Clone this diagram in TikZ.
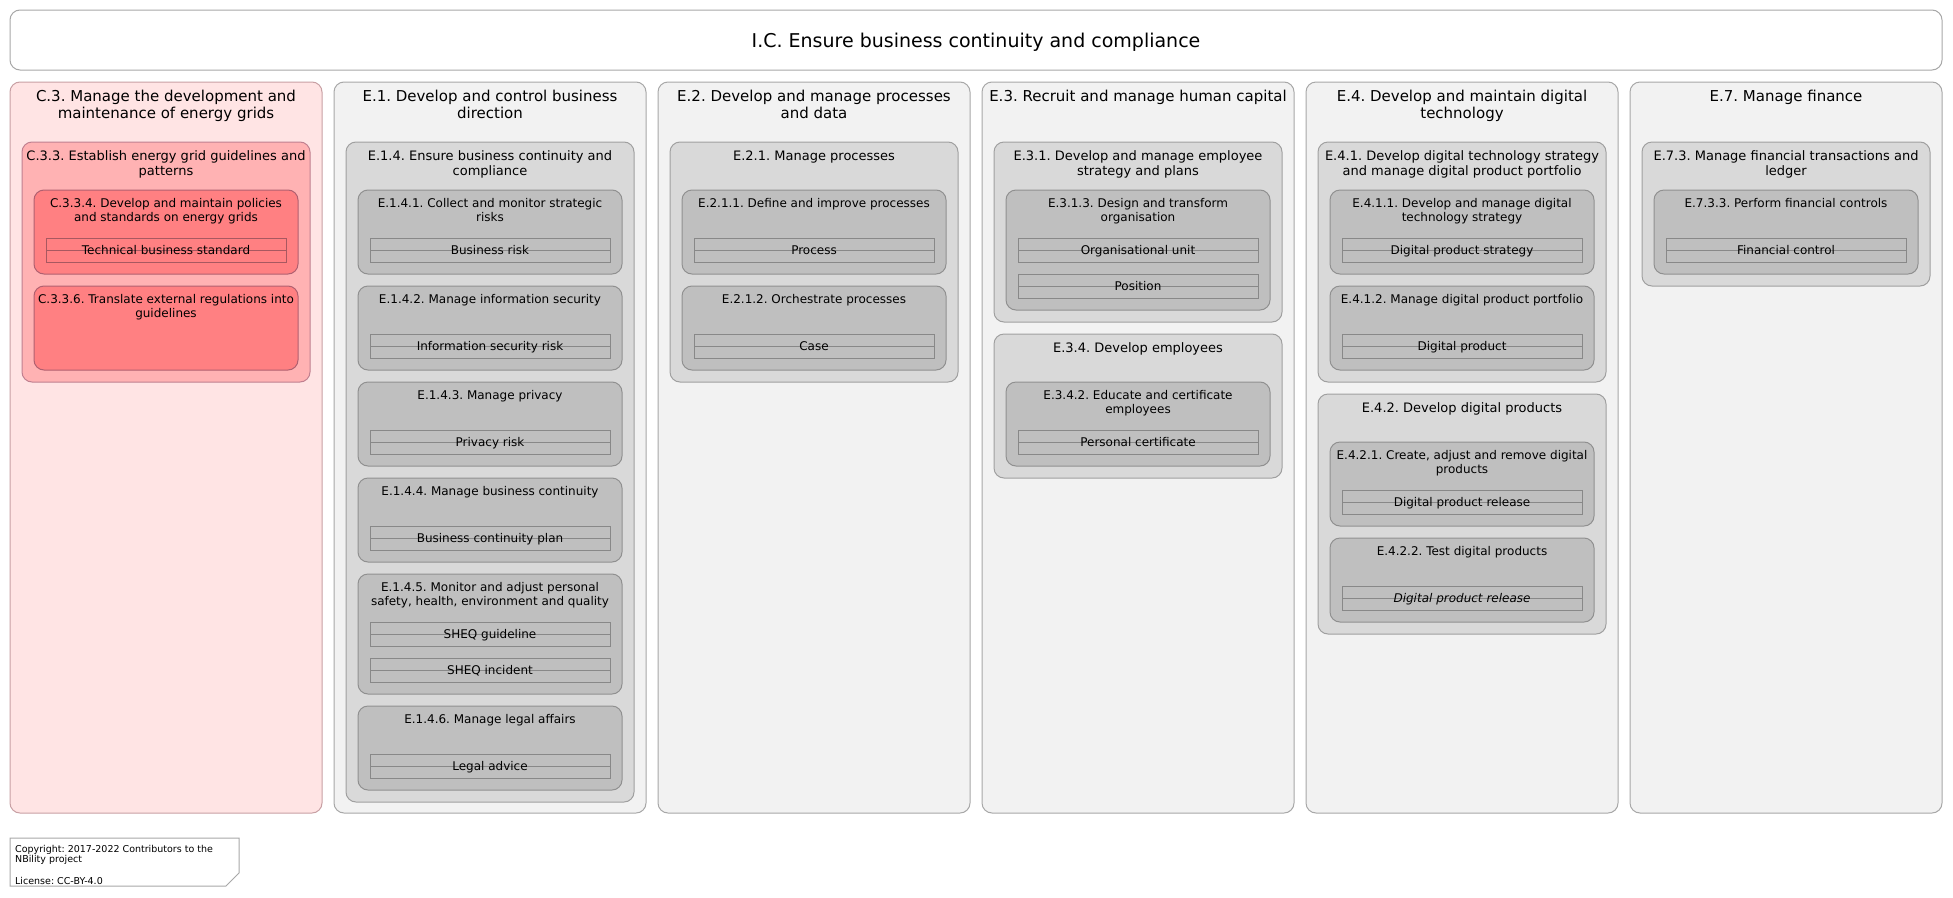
\documentclass[tikz,border=0pt]{standalone}
\usepackage{fontspec}
\setmainfont{DejaVu Sans}
\frenchspacing
\usetikzlibrary{calc}
\definecolor{gcol}{HTML}{F2F2F2}
\definecolor{gtwo}{HTML}{D9D9D9}
\definecolor{gthree}{HTML}{BFBFBF}
\definecolor{rcol}{HTML}{FFE4E4}
\definecolor{rtwo}{HTML}{FFB2B3}
\definecolor{rthree}{HTML}{FF8082}
\definecolor{bcol}{HTML}{A8A8A8}
\definecolor{btwo}{HTML}{A0A0A0}
\definecolor{bthree}{HTML}{909090}
\definecolor{bent}{HTML}{888888}
\definecolor{rbcol}{HTML}{C8A0A4}
\definecolor{rbtwo}{HTML}{C08090}
\definecolor{rbthree}{HTML}{B06070}
\definecolor{rbent}{HTML}{A85860}
\newcommand\ml[1]{\begin{tabular}[t]{@{}c@{}}#1\end{tabular}}
\tikzset{
  boxbase/.style={anchor=north west, rounded corners=10pt, line width=1pt, inner sep=0pt, outer sep=0pt},
  gcolbox/.style={boxbase, draw=bcol, fill=gcol},
  rcolbox/.style={boxbase, draw=rbcol, fill=rcol},
  gtwobox/.style={boxbase, draw=btwo, fill=gtwo},
  rtwobox/.style={boxbase, draw=rbtwo, fill=rtwo},
  gthreebox/.style={boxbase, draw=bthree, fill=gthree},
  rthreebox/.style={boxbase, draw=rbthree, fill=rthree},
  entbase/.style={anchor=north west, line width=1pt, inner sep=0pt, outer sep=0pt,
    minimum width=240pt, minimum height=24pt, text height=9pt, text depth=0pt,
    font=\fontsize{12}{14}\selectfont},
  gent/.style={entbase, draw=bent, path picture={\draw[bent, line width=1pt] (path picture bounding box.west) -- (path picture bounding box.east);}},
  rent/.style={entbase, draw=rbent, path picture={\draw[rbent, line width=1pt] (path picture bounding box.west) -- (path picture bounding box.east);}},
  coltitle/.style={anchor=base, inner sep=0pt, font=\fontsize{15}{17.5}\selectfont},
  twotitle/.style={anchor=base, inner sep=0pt, font=\fontsize{13}{15.2}\selectfont},
  threetitle/.style={anchor=base, inner sep=0pt, font=\fontsize{12}{14}\selectfont},
}
\newcommand\Col[4]{%
  \node[#2, minimum width=312pt, minimum height=731pt] (#1) at (#3,82) {};
  \node[coltitle] (#1-t) at ($(#1.north)+(0,19)$) {\ml{#4}};}
\newcommand\Two[6]{%
  \node[#2, minimum width=288pt, minimum height=#5pt] (#1) at (#3,#4) {};
  \node[twotitle] (#1-t) at ($(#1.north)+(0,18)$) {\ml{#6}};}
\newcommand\Three[6]{%
  \node[#2, minimum width=264pt, minimum height=#5pt] (#1) at (#3,#4) {};
  \node[threetitle] (#1-t) at ($(#1.north)+(0,17)$) {\ml{#6}};}
\newcommand\Ent[5]{\node[#2] (#1) at (#3,#4) {#5};}
\begin{document}
\begin{tikzpicture}[x=1pt,y=-1pt]
\useasboundingbox (0,0) rectangle (1953,897);
\fill[white] (0,0) rectangle (1953,897);
% title
\node[boxbase, draw=bcol, fill=white, minimum width=1932pt, minimum height=60pt] (title) at (10,10) {};
\node[anchor=base, inner sep=0pt, font=\fontsize{19}{22}\selectfont] (title-t) at ($(title.north)+(0,37)$) {I.C. Ensure business continuity and compliance};
% C.3
\Col{c3}{rcolbox}{10}{C.3. Manage the development and\\maintenance of energy grids}
\Two{c33}{rtwobox}{22}{142}{240}{C.3.3. Establish energy grid guidelines and\\patterns}
\Three{c334}{rthreebox}{34}{190}{84}{C.3.3.4. Develop and maintain policies\\and standards on energy grids}
\Ent{c334a}{rent}{46}{238}{Technical business standard}
\Three{c336}{rthreebox}{34}{286}{84}{C.3.3.6. Translate external regulations into\\guidelines}
% E.1
\Col{e1}{gcolbox}{334}{E.1. Develop and control business\\direction}
\Two{e14}{gtwobox}{346}{142}{660}{E.1.4. Ensure business continuity and\\compliance}
\Three{e141}{gthreebox}{358}{190}{84}{E.1.4.1. Collect and monitor strategic\\risks}
\Ent{e141a}{gent}{370}{238}{Business risk}
\Three{e142}{gthreebox}{358}{286}{84}{E.1.4.2. Manage information security}
\Ent{e142a}{gent}{370}{334}{Information security risk}
\Three{e143}{gthreebox}{358}{382}{84}{E.1.4.3. Manage privacy}
\Ent{e143a}{gent}{370}{430}{Privacy risk}
\Three{e144}{gthreebox}{358}{478}{84}{E.1.4.4. Manage business continuity}
\Ent{e144a}{gent}{370}{526}{Business continuity plan}
\Three{e145}{gthreebox}{358}{574}{120}{E.1.4.5. Monitor and adjust personal\\safety, health, environment and quality}
\Ent{e145a}{gent}{370}{622}{SHEQ guideline}
\Ent{e145b}{gent}{370}{658}{SHEQ incident}
\Three{e146}{gthreebox}{358}{706}{84}{E.1.4.6. Manage legal affairs}
\Ent{e146a}{gent}{370}{754}{Legal advice}
% E.2
\Col{e2}{gcolbox}{658}{E.2. Develop and manage processes\\and data}
\Two{e21}{gtwobox}{670}{142}{240}{E.2.1. Manage processes}
\Three{e211}{gthreebox}{682}{190}{84}{E.2.1.1. Define and improve processes}
\Ent{e211a}{gent}{694}{238}{Process}
\Three{e212}{gthreebox}{682}{286}{84}{E.2.1.2. Orchestrate processes}
\Ent{e212a}{gent}{694}{334}{Case}
% E.3
\Col{e3}{gcolbox}{982}{E.3. Recruit and manage human capital}
\Two{e31}{gtwobox}{994}{142}{180}{E.3.1. Develop and manage employee\\strategy and plans}
\Three{e313}{gthreebox}{1006}{190}{120}{E.3.1.3. Design and transform\\organisation}
\Ent{e313a}{gent}{1018}{238}{Organisational unit}
\Ent{e313b}{gent}{1018}{274}{Position}
\Two{e34}{gtwobox}{994}{334}{144}{E.3.4. Develop employees}
\Three{e342}{gthreebox}{1006}{382}{84}{E.3.4.2. Educate and certificate\\employees}
\Ent{e342a}{gent}{1018}{430}{Personal certificate}
% E.4
\Col{e4}{gcolbox}{1306}{E.4. Develop and maintain digital\\technology}
\Two{e41}{gtwobox}{1318}{142}{240}{E.4.1. Develop digital technology strategy\\and manage digital product portfolio}
\Three{e411}{gthreebox}{1330}{190}{84}{E.4.1.1. Develop and manage digital\\technology strategy}
\Ent{e411a}{gent}{1342}{238}{Digital product strategy}
\Three{e412}{gthreebox}{1330}{286}{84}{E.4.1.2. Manage digital product portfolio}
\Ent{e412a}{gent}{1342}{334}{Digital product}
\Two{e42}{gtwobox}{1318}{394}{240}{E.4.2. Develop digital products}
\Three{e421}{gthreebox}{1330}{442}{84}{E.4.2.1. Create, adjust and remove digital\\products}
\Ent{e421a}{gent}{1342}{490}{Digital product release}
\Three{e422}{gthreebox}{1330}{538}{84}{E.4.2.2. Test digital products}
\Ent{e422a}{gent}{1342}{586}{\itshape Digital product release}
% E.7
\Col{e7}{gcolbox}{1630}{E.7. Manage finance}
\Two{e73}{gtwobox}{1642}{142}{144}{E.7.3. Manage financial transactions and\\ledger}
\Three{e733}{gthreebox}{1654}{190}{84}{E.7.3.3. Perform financial controls}
\Ent{e733a}{gent}{1666}{238}{Financial control}
% copyright note
\draw[bcol, line width=1pt, fill=white] (10,838) -- (239,838) -- (239,873) -- (226,886) -- (10,886) -- cycle;
\node[anchor=base west, inner sep=0pt, font=\fontsize{9.5}{10.7}\selectfont] (copy) at (15,852)
  {\begin{tabular}[t]{@{}l@{}}Copyright: 2017-2022 Contributors to the\\NBility project\\[10.7pt] License: CC-BY-4.0\end{tabular}};
\end{tikzpicture}
\end{document}
